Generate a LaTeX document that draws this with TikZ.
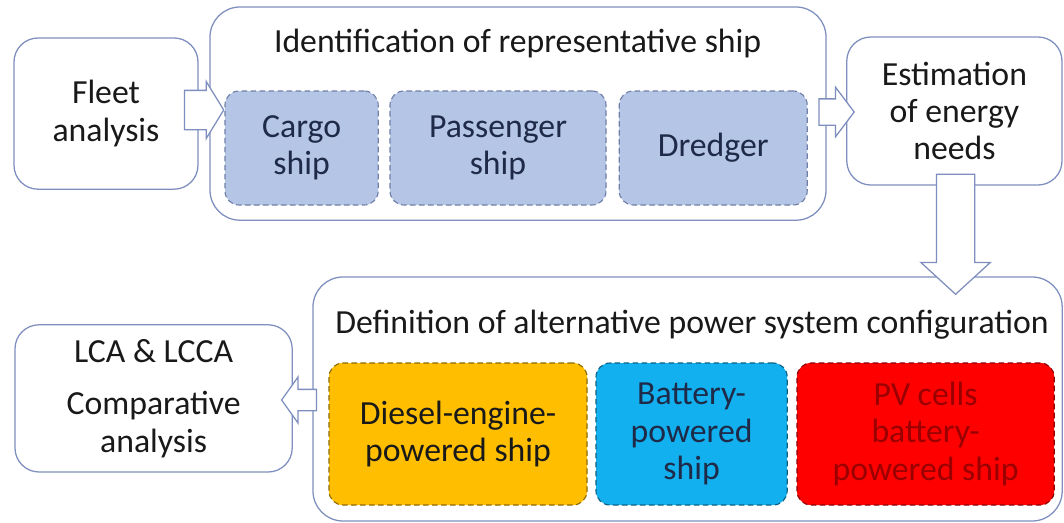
\documentclass[tikz,border=0pt]{standalone}
\usepackage{fontspec}
\setmainfont{Carlito}
\usepackage{tikz}
\usetikzlibrary{positioning,calc,shapes.arrows}
\definecolor{edgeblue}{HTML}{7E8FBF}
\definecolor{shipblue}{HTML}{B4C5E6}
\definecolor{shipedge}{HTML}{6F7FA8}
\definecolor{inknavy}{HTML}{1E2A48}
\definecolor{dieselgold}{HTML}{FFBF00}
\definecolor{battblue}{HTML}{12B0EE}
\definecolor{pvred}{HTML}{FE0000}
\definecolor{pvtext}{HTML}{9A0000}
\tikzset{
  fl/.style={align=center, font=\fontsize{24}{26.5}\selectfont, inner sep=2pt, text=black!90},
  fl step/.style={fl, draw=edgeblue, line width=0.9pt, fill=white, rounded corners=0.6cm},
  fl group/.style={draw=edgeblue, line width=0.9pt, fill=white, rounded corners=0.75cm},
  fl ship/.style={fl, dash pattern=on 4pt off 2.4pt, line width=0.8pt, rounded corners=0.35cm},
  fl rep/.style={fl ship, fill=shipblue, draw=shipedge, text=inknavy, minimum height=2.85cm},
  fl alt/.style={fl ship, minimum height=3.55cm},
  fl arr/.style={single arrow, draw=edgeblue, line width=0.9pt, fill=white,
                 single arrow head indent=0pt},
}
\begin{document}
\begin{tikzpicture}[x=1cm, y=1cm]
  \path[use as bounding box, fill=white] (0,0) rectangle (26.6,-13.075);
  % top row: fleet, representative ships, energy needs
  \node[fl step, minimum width=4.6cm, minimum height=3.78cm] (fl) at (2.65,-2.84) {Fleet\\analysis};
  \node[fl group, minimum width=15.4cm, minimum height=5.33cm] (id) at (12.95,-2.84) {};
  \node[fl] (idt) at (12.94,-1.1) {Identification of representative ship};
  \node[fl rep, minimum width=3.83cm] (cg) at (7.54,-3.7) {Cargo\\ship};
  \node[fl rep, minimum width=5.4cm] (pa) at (12.45,-3.7) {Passenger\\ship};
  \node[fl rep, minimum width=4.7cm] (dg) at (17.83,-3.7) {Dredger};
  \node[fl step, minimum width=5.38cm, minimum height=3.7cm] (en) at (23.86,-2.775) {Estimation\\of energy\\needs};
  % bottom row: power system options and the comparison
  \node[fl group, minimum width=18.73cm, minimum height=6.1cm] (df) at (17.19,-9.975) {};
  \node[fl] (dft) at (17.3,-8.125) {Definition of alternative power system configuration};
  \node[fl alt, fill=dieselgold, draw=black!45!dieselgold, minimum width=6.45cm] (de) at (11.45,-10.85) {Diesel-engine-\\powered ship};
  \node[fl alt, fill=battblue, draw=battblue!55!black, text=inknavy, minimum width=4.78cm] (bt) at (17.29,-10.85) {Battery-\\powered\\ship};
  \node[fl alt, fill=pvred, draw=pvred!55!black, text=pvtext, minimum width=6.43cm] (pv) at (23.14,-10.85) {PV cells\\battery-\\powered ship};
  \node[fl step, minimum width=6.93cm, minimum height=3.68cm] (lc) at (3.84,-9.96) {LCA \& LCCA\\[11pt]Comparative\\analysis};
  % block arrows on top of the boxes
  \node[fl arr, inner xsep=0.325cm, inner ysep=0.475cm, single arrow head extend=0.225cm,
        single arrow tip angle=117, anchor=tip] (a1) at ($(cg.west |- fl.east)+(0,0.09)$) {};
  \node[fl arr, inner xsep=0.3cm, inner ysep=0.3125cm, single arrow head extend=0.29cm,
        single arrow tip angle=106, anchor=tip] (a2) at ($(en.west)+(0.22,-0.025)$) {};
  \node[fl arr, shape border rotate=270, inner sep=0.4625cm, minimum height=3cm, single arrow head extend=0.39cm,
        single arrow tip angle=95, anchor=tail] (a3) at ($(en.south)+(0.03,0.3)$) {};
  \node[fl arr, shape border rotate=180, inner xsep=0.325cm, inner ysep=0.25cm, single arrow head extend=0.31cm,
        single arrow tip angle=109, anchor=tip] (a4) at ($(lc.east)+(-0.3,-0.04)$) {};
\end{tikzpicture}
\end{document}
